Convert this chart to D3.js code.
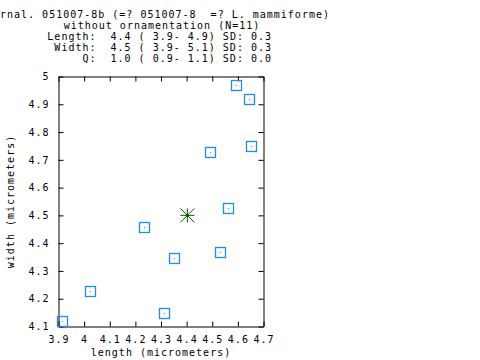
<!DOCTYPE html>
<html><head><meta charset="utf-8">
<script src="https://cdn.jsdelivr.net/npm/d3@7"></script>
<style>
html,body{margin:0;padding:0;background:#fff;}
text{font-family:"DejaVu Sans Mono",monospace;font-size:10px;letter-spacing:1px;fill:#000;white-space:pre;}
</style></head>
<body><svg id="c" width="480" height="360"></svg>
<script>
const titleLines = [
  "rnal. 051007-8b (=? 051007-8  =? L. mammiforme)",
  "without ornamentation (N=11)",
  "Length:  4.4 ( 3.9- 4.9) SD: 0.3",
  "Width:  4.5 ( 3.9- 5.1) SD: 0.3",
  "Q:  1.0 ( 0.9- 1.1) SD: 0.0"
];
const lengths = [3.913, 4.024, 4.233, 4.350, 4.311, 4.530, 4.561, 4.491, 4.593, 4.643, 4.651];
const widths  = [4.121, 4.229, 4.459, 4.347, 4.149, 4.369, 4.527, 4.729, 4.970, 4.920, 4.750];
const meanPoint = [4.403, 4.500];
const xTicks = [3.9, 4.0, 4.1, 4.2, 4.3, 4.4, 4.5, 4.6, 4.7];
const yTicks = [4.1, 4.2, 4.3, 4.4, 4.5, 4.6, 4.7, 4.8, 4.9, 5.0];
const xLabel = "length (micrometers)";
const yLabel = "width (micrometers)";

const svg = d3.select("#c");
const L = 58.5, R = 263.5, T = 76.5, B = 326.5;
const x = d3.scaleLinear().domain([3.9, 4.7]).range([L, R]);
const y = d3.scaleLinear().domain([4.1, 5.0]).range([B, T]);
const fmt = d => d3.format("")(+d.toFixed(1));

// title
const tAnch = ["start", "middle", "end", "end", "end"];
const tX = [0, 162, 272, 272, 272];
const tY = [18, 29, 40, 51, 62];
titleLines.forEach((s, i) => {
  svg.append("text").attr("xml:space", "preserve").attr("x", tX[i]).attr("y", tY[i]).attr("text-anchor", tAnch[i]).text(s);
});

// axes
const tl = 5;
const gB = svg.append("g").attr("transform", `translate(0,${B})`)
  .call(d3.axisBottom(x).tickValues(xTicks).tickSizeInner(-tl).tickSizeOuter(0).tickPadding(9).tickFormat(fmt));
const gT = svg.append("g").attr("transform", `translate(0,${T})`)
  .call(d3.axisTop(x).tickValues(xTicks).tickSizeInner(-tl).tickSizeOuter(0).tickFormat(""));
const gL = svg.append("g").attr("transform", `translate(${L},0)`)
  .call(d3.axisLeft(y).tickValues(yTicks).tickSizeInner(-tl).tickSizeOuter(0).tickPadding(9).tickFormat(fmt));
const gR = svg.append("g").attr("transform", `translate(${R},0)`)
  .call(d3.axisRight(y).tickValues(yTicks).tickSizeInner(-tl).tickSizeOuter(0).tickFormat(""));
[gB, gT, gL, gR].forEach(g => {
  g.selectAll("path.domain").attr("stroke", "#000").attr("stroke-width", 1);
  g.selectAll(".tick line").attr("stroke", "#000").attr("stroke-width", 1);
  g.selectAll("text").attr("font-family", null).attr("font-size", null).attr("fill", "#000");
});
gB.selectAll(".tick text").attr("dy", "0.71em");

// axis titles
svg.append("text").attr("x", (L + R) / 2).attr("y", 356).attr("text-anchor", "middle").text(xLabel);
svg.append("text").attr("transform", `translate(14,${(T + B) / 2}) rotate(-90)`).attr("text-anchor", "middle").text(yLabel);

// points
const pts = svg.append("g");
const s = 10;
lengths.forEach((l, i) => {
  const cx = Math.round(x(l)), cy = Math.round(y(widths[i]));
  pts.append("rect").attr("x", cx - s / 2 + 0.5).attr("y", cy - s / 2 + 0.5).attr("width", s).attr("height", s)
    .attr("fill", "none").attr("stroke", "#1a8cff").attr("stroke-width", 1.3);
  pts.append("rect").attr("x", cx).attr("y", cy).attr("width", 1).attr("height", 1).attr("fill", "#1a8cff");
});

// mean star
const mx = x(meanPoint[0]), my = y(meanPoint[1]);
const r = 7;
const star = svg.append("g").attr("stroke", "#006400").attr("stroke-width", 1);
[[r, 0], [0, r], [r, r], [r, -r]].forEach(([dx, dy]) => {
  star.append("line").attr("x1", mx - dx).attr("y1", my - dy).attr("x2", mx + dx).attr("y2", my + dy);
});
svg.append("circle").attr("cx", mx).attr("cy", my).attr("r", 1.6).attr("fill", "#006400");
</script></body></html>
